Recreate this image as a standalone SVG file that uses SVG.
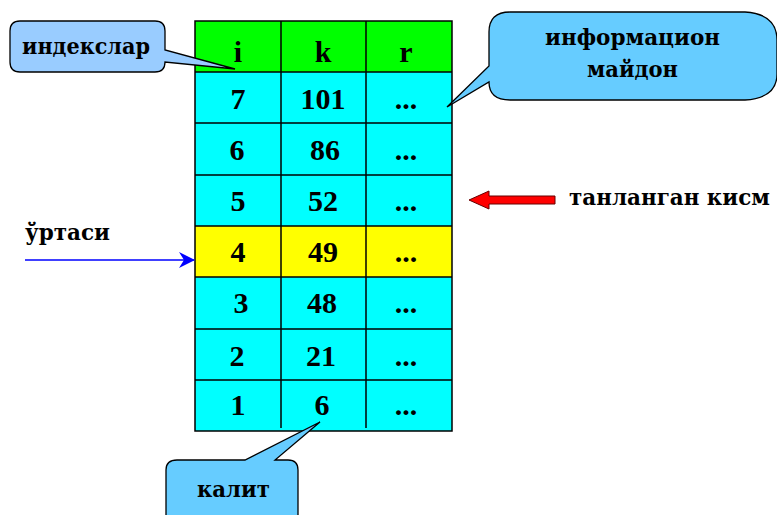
<svg xmlns="http://www.w3.org/2000/svg" width="777" height="515" viewBox="0 0 777 515">
<style>
.t{font-family:"Liberation Serif","Times New Roman",serif;font-weight:bold;fill:#000}
.cell{font-size:30px;text-anchor:middle}
.lbl{font-family:"DejaVu Serif","Liberation Serif",serif;font-weight:bold;font-size:22px;fill:#000}
.grid{stroke:#000;stroke-width:1.5}
.call{stroke:#000;stroke-width:1.3}
</style>
<defs>
<marker id="blueHead" markerWidth="16" markerHeight="16" refX="15" refY="8" orient="auto" markerUnits="userSpaceOnUse">
<path d="M0,0 L16,8 L0,16 L5,8 Z" fill="#0000FF"/>
</marker>
</defs>
<rect width="777" height="515" fill="#fff"/>
<g id="table">
<rect x="195" y="21" width="257" height="51" fill="#00FF00"/>
<rect x="195" y="72" width="257" height="154" fill="#00FFFF"/>
<rect x="195" y="226" width="257" height="51" fill="#FFFF00"/>
<rect x="195" y="277" width="257" height="154" fill="#00FFFF"/>
<g class="grid">
<rect x="195" y="21" width="257" height="410" fill="none"/>
<line x1="195" y1="72" x2="452" y2="72"/>
<line x1="195" y1="123" x2="452" y2="123"/>
<line x1="195" y1="175" x2="452" y2="175"/>
<line x1="195" y1="226" x2="452" y2="226"/>
<line x1="195" y1="277" x2="452" y2="277"/>
<line x1="195" y1="329" x2="452" y2="329"/>
<line x1="195" y1="380" x2="452" y2="380"/>
<line x1="281" y1="21" x2="281" y2="428"/>
<line x1="366" y1="21" x2="366" y2="428"/>
</g>
<g class="t cell">
<text x="238" y="62">i</text><text x="323" y="62">k</text><text x="406" y="62">r</text>
<text x="238" y="109">7</text><text x="323" y="109">101</text><text x="406" y="109">...</text>
<text x="237" y="160">6</text><text x="325" y="160">86</text><text x="406" y="160">...</text>
<text x="238" y="211">5</text><text x="323" y="211">52</text><text x="406" y="211">...</text>
<text x="238" y="262">4</text><text x="323" y="262">49</text><text x="406" y="262">...</text>
<text x="241" y="313">3</text><text x="322" y="313">48</text><text x="406" y="313">...</text>
<text x="237" y="366">2</text><text x="321" y="366">21</text><text x="406" y="366">...</text>
<text x="238" y="415">1</text><text x="322" y="415">6</text><text x="406" y="415">...</text>
</g>
</g>
<g id="callout-indexes">
<path class="call" fill="#99CCFF" d="M20,21 L155,21 Q165,21 165,31 L165,50 L235,69 L165,62 L165,62 Q165,72 155,72 L20,72 Q10,72 10,62 L10,31 Q10,21 20,21 Z"/>
<text class="lbl" x="22" y="54" textLength="128" lengthAdjust="spacingAndGlyphs">индекслар</text>
</g>
<g id="callout-info">
<path class="call" fill="#66CCFF" d="M510,12 L745,12 Q777,14 777,40 L777,74 Q777,98 745,100 L510,100 Q489,100 489,82 L447,107 L489,66 L489,32 Q489,12 510,12 Z"/>
<text class="lbl" x="545" y="45" textLength="175" lengthAdjust="spacingAndGlyphs">информацион</text>
<text class="lbl" x="587" y="77" textLength="91" lengthAdjust="spacingAndGlyphs">майдон</text>
</g>
<g id="callout-key">
<path class="call" fill="#66CCFF" d="M177,460 L245,460 L320,422 L275,460 L288,460 Q298,460 298,470 L298,520 L166,520 L166,470 Q166,460 177,460 Z"/>
<text class="lbl" x="197" y="497" textLength="73" lengthAdjust="spacingAndGlyphs">калит</text>
</g>
<g id="label-middle">
<text class="lbl" x="25" y="240" textLength="85" lengthAdjust="spacingAndGlyphs">ўртаси</text>
</g>
<g id="label-selected">
<text class="lbl" x="569" y="205" textLength="201" lengthAdjust="spacingAndGlyphs">танланган кисм</text>
</g>
<g id="connectors">
<line x1="25" y1="260" x2="194" y2="260" stroke="#0000FF" stroke-width="1.5" marker-end="url(#blueHead)"/>
<path d="M469,200 L489,191 L489,196 L555,196 L555,204 L489,204 L489,209 Z" fill="#FF0000" stroke="#600" stroke-width="1"/>
</g>
</svg>
